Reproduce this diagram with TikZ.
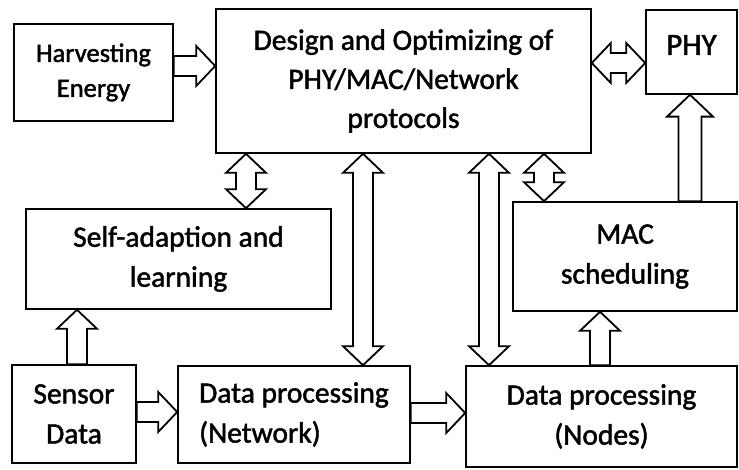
\documentclass[tikz,border=0pt]{standalone}
\usepackage{fontspec}
\setmainfont{Carlito}
\newfontfamily\boxfont{Carlito}[FakeBold=1.6]
\usetikzlibrary{calc}

% hollow block arrows between two points (optional size factor)
\newcommand\onearrow[3][1]{%
  \draw[blkarrow] let \p1=(#2), \p2=(#3),
    \n1={atan2(\y2-\y1,\x2-\x1)}, \n2={veclen(\x2-\x1,\y2-\y1)} in
    [shift={(\p1)}, rotate=\n1]
    (0,-10*#1) -- ({\n2-19*#1},-10*#1) -- ({\n2-19*#1},-20*#1) -- (\n2,0)
    -- ({\n2-19*#1},20*#1) -- ({\n2-19*#1},10*#1) -- (0,10*#1) -- cycle;}
\newcommand\twoarrow[3][1]{%
  \draw[blkarrow] let \p1=(#2), \p2=(#3),
    \n1={atan2(\y2-\y1,\x2-\x1)}, \n2={veclen(\x2-\x1,\y2-\y1)} in
    [shift={(\p1)}, rotate=\n1]
    (0,0) -- (19*#1,-20*#1) -- (19*#1,-10*#1) -- ({\n2-19*#1},-10*#1) -- ({\n2-19*#1},-20*#1) -- (\n2,0)
    -- ({\n2-19*#1},20*#1) -- ({\n2-19*#1},10*#1) -- (19*#1,10*#1) -- (19*#1,20*#1) -- cycle;}

\begin{document}
\begin{tikzpicture}[
  x=1pt,y=1pt,
  box/.style={draw,line width=1.6pt,inner sep=0pt,align=center,
    font=\boxfont\fontsize{29.5}{40}\selectfont},
  blkarrow/.style={draw,line width=1.8pt,line join=miter,fill=white}
]
\useasboundingbox (0,0) rectangle (739,470);

\node[box,minimum width=159,minimum height=97,font=\boxfont\fontsize{26.5}{35}\selectfont] (harvest) at (93.5,397.5) {Harvesting\\Energy};
\node[box,minimum width=375,minimum height=144,font=\boxfont\fontsize{29.5}{39}\selectfont] (design) at (403.5,389) {Design and Optimizing of\\PHY/MAC/Network\\protocols};
\node[box,minimum width=91,minimum height=84,font=\boxfont\fontsize{31}{39}\selectfont] (phy) at (691.5,418) {\raisebox{14pt}{PHY}};
\node[box,minimum width=305,minimum height=100] (adapt) at (178.5,211) {Self-adaption and\\learning};
\node[box,minimum width=224,minimum height=109] (mac) at (625,213.5) {MAC\\scheduling};
\node[box,minimum width=124,minimum height=98] (sensor) at (74,56) {Sensor\\Data};
\node[box,minimum width=232,minimum height=97,align=left] (netproc) at (294,55.5) {Data processing\\(Network)};
\node[box,minimum width=271,minimum height=101] (nodeproc) at (601.5,53.5) {Data processing\\(Nodes)};

% arrow lines
\coordinate (yhd) at (0,404);
\coordinate (ydp) at (0,407);
\coordinate (ysn) at (0,58);
\coordinate (ynn) at (0,57);
\coordinate (xad) at (246,0);
\coordinate (xnet) at (363,0);
\coordinate (xnod) at (489,0);
\coordinate (xmac) at (544,0);
\coordinate (xphy) at (690,0);
\coordinate (xsen) at (77,0);
\coordinate (xnm) at (600,0);

\onearrow{harvest.east |- yhd}{design.west |- yhd}
\twoarrow{design.east |- ydp}{phy.west |- ydp}
\twoarrow{adapt.north -| xad}{design.south -| xad}
\twoarrow{netproc.north -| xnet}{design.south -| xnet}
\twoarrow{nodeproc.north -| xnod}{design.south -| xnod}
\twoarrow{mac.north -| xmac}{design.south -| xmac}
\onearrow[1.15]{mac.north -| xphy}{phy.south -| xphy}
\onearrow{sensor.north -| xsen}{adapt.south -| xsen}
\onearrow{sensor.east |- ysn}{netproc.west |- ysn}
\onearrow{netproc.east |- ynn}{nodeproc.west |- ynn}
\onearrow{nodeproc.north -| xnm}{mac.south -| xnm}
\end{tikzpicture}
\end{document}
